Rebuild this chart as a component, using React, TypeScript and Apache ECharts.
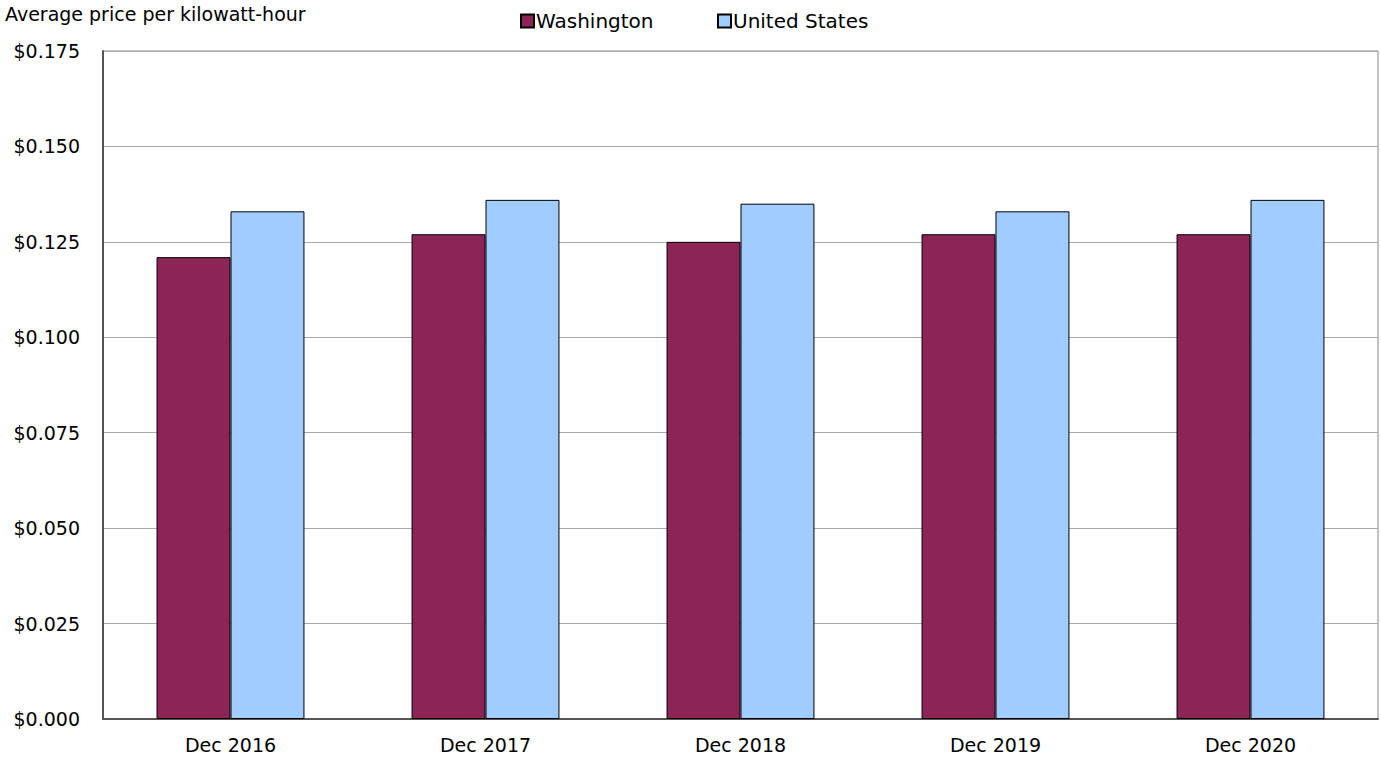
import React, { useEffect, useRef } from "react";
import * as echarts from "echarts";

const categories = ["Dec 2016", "Dec 2017", "Dec 2018", "Dec 2019", "Dec 2020"];
const washington = [0.121, 0.127, 0.125, 0.127, 0.127];
const unitedStates = [0.133, 0.136, 0.135, 0.133, 0.136];
const seriesNames = ["Washington", "United States"];
const yAxisTitle = "Average price per kilowatt-hour";

export default function App() {
  const ref = useRef<HTMLDivElement>(null);
  useEffect(() => {
    if (!ref.current) return;
    const chart = echarts.init(ref.current, null, { renderer: "svg" });
    const font = "'DejaVu Sans', Verdana, sans-serif";
    const legendText = { fontSize: 20, color: "#000", fontFamily: font, padding: [0, 0, 0, -3] };
    chart.setOption({
      animation: false,
      backgroundColor: "#ffffff",
      textStyle: { fontFamily: font },
      graphic: [
        {
          type: "text",
          left: 5,
          top: 4,
          style: { text: yAxisTitle, fontSize: 19, fill: "#000", fontFamily: font },
        },
      ],
      legend: [
        {
          top: 6,
          left: 515,
          itemWidth: 13,
          itemHeight: 13,
          icon: "rect",
          textStyle: legendText,
          data: [seriesNames[0]],
        },
        {
          top: 6,
          left: 712,
          itemWidth: 13,
          itemHeight: 13,
          icon: "rect",
          textStyle: legendText,
          data: [seriesNames[1]],
        },
      ],
      grid: {
        left: 103,
        right: 3,
        top: 51,
        bottom: 42,
        show: true,
        borderColor: "#888",
        borderWidth: 1,
      },
      xAxis: {
        type: "category",
        data: categories,
        axisLine: { lineStyle: { color: "#555", width: 2 } },
        axisTick: { show: false },
        axisLabel: { fontSize: 19, color: "#000", margin: 16, fontFamily: font },
      },
      yAxis: {
        type: "value",
        min: 0,
        max: 0.175,
        interval: 0.025,
        axisLine: { show: true, lineStyle: { color: "#555", width: 2 } },
        axisTick: { show: false },
        axisLabel: {
          fontSize: 19,
          color: "#000",
          margin: 23,
          fontFamily: font,
          formatter: (v: number) => "$" + v.toFixed(3),
        },
        splitLine: { lineStyle: { color: "#aaa", width: 1 } },
      },
      series: [
        {
          name: seriesNames[0],
          type: "bar",
          data: washington,
          barGap: "0%",
          barCategoryGap: "42%",
          itemStyle: { color: "#8c2456", borderColor: "#000", borderWidth: 1 },
        },
        {
          name: seriesNames[1],
          type: "bar",
          data: unitedStates,
          itemStyle: { color: "#a0ccff", borderColor: "#000", borderWidth: 1 },
        },
      ],
    });
    return () => chart.dispose();
  }, []);
  return (
    <div
      ref={ref}
      style={{ position: "fixed", left: 0, top: 0, width: 1381, height: 761 }}
    />
  );
}
